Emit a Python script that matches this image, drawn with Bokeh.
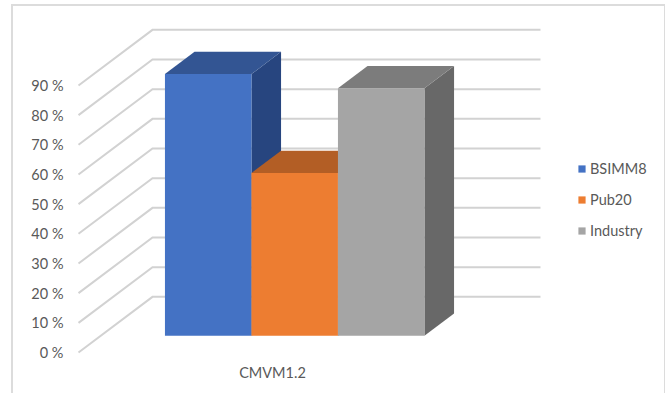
from bokeh.embed import file_html
from bokeh.models import (FixedTicker, InlineStyleSheet, Legend, LegendItem, PrintfTickFormatter,
                          Range1d)
from bokeh.plotting import figure
from bokeh.resources import INLINE

# Chart content
category = "CMVM1.2"
series = ["BSIMM8", "Pub20", "Industry"]
values = [88.2, 54.9, 83.4]
y_ticks = [0, 10, 20, 30, 40, 50, 60, 70, 80, 90]

face_colors = ["#4472C4", "#ED7D31", "#A5A5A5"]
top_colors = ["#335593", "#B35E25", "#7C7C7C"]
side_colors = ["#27457F", "#8F4B1D", "#686868"]
grid_color = "#D2D2D2"
text_color = "#595959"
font = "Lato"

# Oblique projection of the chart's floor: a point at depth d (0 = front, 1 = back)
# is shifted right and up on the page.
FLOOR_WIDTH = 388.0
DEPTH_X = 74.0
DEPTH_Y = 18.75
BAR_WIDTH = 86.5
BAR_FRONT = 0.30
BAR_BACK = 0.70

# Vertical scale: pixels per percentage point, and room kept under the zero line
PX_PER_UNIT = 2.967
Y_LOW = -8 / PX_PER_UNIT
Y_HIGH = 352 / PX_PER_UNIT


def project(x, v, d):
    return x + d * DEPTH_X, v + d * DEPTH_Y


def polygon(points):
    pts = [project(*pt) for pt in points]
    return [a for a, _ in pts], [b for _, b in pts]


# The chart area's thin frame is open along the bottom of the page
frame_css = InlineStyleSheet(css="""
:host { position: relative; }
:host::after {
  content: ""; position: absolute; left: 11px; top: 4px; right: 0; bottom: 0;
  border: solid #DCDCDC; border-width: 2px 1px 0 2px; pointer-events: none;
}
""")

p = figure(
    width=665, height=393, output_backend="svg", toolbar_location=None,
    x_range=Range1d(-8, 587), y_range=Range1d(Y_LOW, Y_HIGH),
    min_border_left=70, min_border_right=0, min_border_top=0, min_border_bottom=33,
    background_fill_color="white", border_fill_color="white", outline_line_color=None,
    stylesheets=[frame_css],
)
p.grid.visible = False

# Walls: diagonal floor-to-wall strokes and the horizontal back-wall lines
for t in y_ticks:
    xs, ys = polygon([(0, t, 0), (0, t, 1), (FLOOR_WIDTH, t, 1)])
    p.line(xs, ys, line_color=grid_color, line_width=2, line_join="miter")

# Bars, left to right so each one hides the side of its left neighbour
group_left = (FLOOR_WIDTH - BAR_WIDTH * len(series)) / 2
legend_items = []
for i, (name, val) in enumerate(zip(series, values)):
    x0 = group_left + i * BAR_WIDTH
    x1 = x0 + BAR_WIDTH
    xs, ys = polygon([(x1, 0, BAR_FRONT), (x1, 0, BAR_BACK), (x1, val, BAR_BACK), (x1, val, BAR_FRONT)])
    p.patch(xs, ys, fill_color=side_colors[i], line_color=None)
    xs, ys = polygon([(x0, val, BAR_FRONT), (x0, val, BAR_BACK), (x1, val, BAR_BACK), (x1, val, BAR_FRONT)])
    p.patch(xs, ys, fill_color=top_colors[i], line_color=None)
    xs, ys = polygon([(x0, 0, BAR_FRONT), (x1, 0, BAR_FRONT), (x1, val, BAR_FRONT), (x0, val, BAR_FRONT)])
    front = p.patch(xs, ys, fill_color=face_colors[i], line_color=None)
    legend_items.append(LegendItem(label=name, renderers=[front]))

# Axes
p.yaxis.ticker = FixedTicker(ticks=y_ticks)
p.yaxis.formatter = PrintfTickFormatter(format="%d %%")
p.yaxis.axis_line_color = None
p.yaxis.major_tick_line_color = None
p.yaxis.minor_tick_line_color = None
p.yaxis.major_label_standoff = 1
p.yaxis.major_label_text_font = font
p.yaxis.major_label_text_font_size = "14.5px"
p.yaxis.major_label_text_color = text_color

centre = FLOOR_WIDTH / 2
p.xaxis.ticker = FixedTicker(ticks=[centre])
p.xaxis.major_label_overrides = {centre: category}
p.xaxis.axis_line_color = None
p.xaxis.major_tick_line_color = None
p.xaxis.minor_tick_line_color = None
p.xaxis.major_label_standoff = -3
p.xaxis.major_label_text_font = font
p.xaxis.major_label_text_font_size = "14.5px"
p.xaxis.major_label_text_color = text_color

legend = Legend(
    items=legend_items, location=(507, 120), orientation="vertical",
    background_fill_alpha=0, border_line_color=None, padding=0, margin=0,
    spacing=12, glyph_width=9, glyph_height=9, label_standoff=4,
    label_text_font=font, label_text_font_size="14.5px", label_text_color=text_color,
    label_height=19,
)
p.add_layout(legend)

open("out.html", "w").write(file_html(p, INLINE))
